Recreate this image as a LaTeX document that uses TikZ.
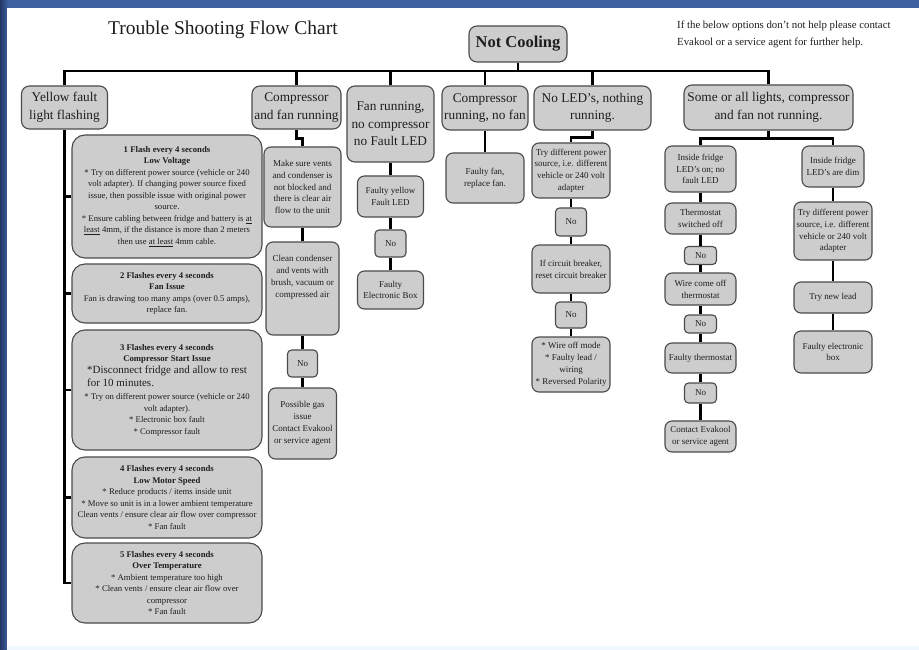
\documentclass[tikz,border=0pt]{standalone}
\usepackage{fontspec}
\setmainfont{Liberation Serif}
\usetikzlibrary{calc}
\definecolor{boxfill}{RGB}{205,205,205}
\definecolor{boxline}{RGB}{75,75,75}
\definecolor{frameblue}{RGB}{62,98,160}
\definecolor{framedark}{RGB}{35,55,100}
\definecolor{inktext}{RGB}{30,30,30}
\begin{document}
\begin{tikzpicture}[x=1pt,y=-1pt,
  box/.style={draw=boxline, fill=boxfill, line width=1.1pt, rounded corners=7pt, align=center, inner sep=1pt, text=inktext, font=\fontsize{9}{11.8}\selectfont},
  sbox/.style={box, rounded corners=4pt},
  hbox/.style={box, rounded corners=8pt, font=\fontsize{13.3}{17.5}\selectfont},
  lbox/.style={box, rounded corners=13pt, font=\fontsize{8.7}{11.5}\selectfont},
  conn/.style={line width=2.5pt, black},
]
\useasboundingbox (0,0) rectangle (919,650);
% frame
\fill[frameblue] (0,0) rectangle (919,650);
\shade[left color=framedark, right color=frameblue] (0,0) rectangle (8,650);
\fill[white] (7,8) rectangle (919,646);
\fill[cyan!6] (7,646) rectangle (919,650);

% title and note
\node[font=\fontsize{19.5}{22}\selectfont, text=inktext] (title) at (223,30) {Trouble Shooting Flow Chart};
\node[font=\fontsize{10.8}{17}\selectfont, align=left, anchor=west, inner sep=0pt, text=inktext] (note) at (677,34.5)
  {If the below options don't not help please contact\\Evakool or a service agent for further help.};

% root
\node[hbox, font=\fontsize{16.5}{19}\selectfont\bfseries, minimum width=98, minimum height=36] (nc) at (518,44) {Not Cooling};
\coordinate (bus) at (0,71);

% headers
\node[hbox, minimum width=86, minimum height=43] (yel) at (64.5,107.5) {Yellow fault\\light flashing};
\node[hbox, minimum width=89, minimum height=43] (cf) at (296.5,107.5) {Compressor\\and fan running};
\node[hbox, minimum width=87, minimum height=76] (fr) at (390.5,124) {Fan running,\\no compressor\\no Fault LED};
\node[hbox, minimum width=86, minimum height=44] (cr) at (485,108) {Compressor\\running, no fan};
\node[hbox, minimum width=117, minimum height=44] (nl) at (592.5,108) {No LED’s, nothing\\running.};
\node[hbox, minimum width=169, minimum height=45] (so) at (768.5,107.5) {Some or all lights, compressor\\and fan not running.};

% yellow fault boxes
\node[lbox, minimum width=190, minimum height=123] (b1) at (167,196.5)
  {\textbf{1 Flash every 4 seconds}\\\textbf{Low Voltage}\\
   * Try on different power source (vehicle or 240\\
   volt adapter). If changing power source fixed\\
   issue, then possible issue with original power\\
   source.\\
   * Ensure cabling between fridge and battery is \underline{at}\\
   \underline{least} 4mm, if the distance is more than 2 meters\\
   then use \underline{at least} 4mm cable.};
\node[lbox, minimum width=190, minimum height=59] (b2) at (167,293.5)
  {\textbf{2 Flashes every 4 seconds}\\\textbf{Fan Issue}\\
   Fan is drawing too many amps (over 0.5 amps),\\
   replace fan.};
\node[lbox, minimum width=190, minimum height=120] (b3) at (167,390)
  {\textbf{3 Flashes every 4 seconds}\\\textbf{Compressor Start Issue}\\
   {\fontsize{11}{13}\selectfont\begin{tabular}{@{}l@{}}*Disconnect fridge and allow to rest\\for 10 minutes.\end{tabular}}\\[2pt]
   * Try on different power source (vehicle or 240\\
   volt adapter).\\
   * Electronic box fault\\
   * Compressor fault};
\node[lbox, minimum width=190, minimum height=81] (b4) at (167,497.5)
  {\textbf{4 Flashes every 4 seconds}\\\textbf{Low Motor Speed}\\
   * Reduce products / items inside unit\\
   * Move so unit is in a lower ambient temperature\\
   Clean vents / ensure clear air flow over compressor\\
   * Fan fault};
\node[lbox, minimum width=190, minimum height=80] (b5) at (167,583)
  {\textbf{5 Flashes every 4 seconds}\\\textbf{Over Temperature}\\
   * Ambient temperature too high\\
   * Clean vents / ensure clear air flow over\\
   compressor\\
   * Fan fault};

% compressor and fan running column
\node[box, minimum width=77, minimum height=80] (ms) at (302.5,187) {Make sure vents\\and condenser is\\not blocked and\\there is clear air\\flow to the unit};
\node[box, minimum width=73, minimum height=93] (cc) at (302.5,288.5) {Clean condenser\\and vents with\\brush, vacuum or\\compressed air\rule[-24pt]{0pt}{0pt}};
\node[sbox, minimum width=30, minimum height=27] (no1) at (302.5,363.5) {No};
\node[box, minimum width=68, minimum height=71] (pg) at (302.5,423.5) {Possible gas\\issue\\Contact Evakool\\or service agent};

% fan running column
\node[box, minimum width=66, minimum height=41] (fy) at (390.5,196.5) {Faulty yellow\\Fault LED};
\node[sbox, minimum width=31, minimum height=27] (no2) at (390.5,243.5) {No};
\node[box, minimum width=66, minimum height=38] (fe) at (390.5,290) {Faulty\\Electronic Box};

% compressor running column
\node[box, minimum width=78, minimum height=50] (ff) at (485,178) {Faulty fan,\\replace fan.};

% no LED column
\node[box, minimum width=78, minimum height=55] (td) at (571,170.5) {Try different power\\source, i.e. different\\vehicle or 240 volt\\adapter};
\node[sbox, minimum width=31, minimum height=28] (no3) at (571,222) {No};
\node[box, minimum width=78, minimum height=48] (cb) at (571,269) {If circuit breaker,\\reset circuit breaker};
\node[sbox, minimum width=31, minimum height=26] (no4) at (571,315) {No};
\node[box, minimum width=78, minimum height=55] (wo) at (571,364.5) {* Wire off mode\\* Faulty lead /\\wiring\\* Reversed Polarity};

% some or all column
\node[box, minimum width=71, minimum height=46] (l1) at (700.5,169) {Inside fridge\\LED’s on; no\\fault LED};
\node[box, minimum width=71, minimum height=31] (l2) at (700.5,218.5) {Thermostat\\switched off};
\node[sbox, minimum width=32, minimum height=18] (l3) at (700.5,255.5) {No};
\node[box, minimum width=71, minimum height=32] (l4) at (700.5,289) {Wire come off\\thermostat};
\node[sbox, minimum width=32, minimum height=18] (l5) at (700.5,324) {No};
\node[box, minimum width=71, minimum height=30] (l6) at (700.5,358) {Faulty thermostat};
\node[sbox, minimum width=32, minimum height=20] (l7) at (700.5,393) {No};
\node[box, minimum width=71, minimum height=31] (l8) at (700.5,436.5) {Contact Evakool\\or service agent};
\node[box, minimum width=62, minimum height=41] (r1) at (833,166.5) {Inside fridge\\LED’s are dim};
\node[box, minimum width=78, minimum height=58] (r2) at (833,231) {Try different power\\source, i.e. different\\vehicle or 240 volt\\adapter};
\node[box, minimum width=78, minimum height=31] (r3) at (833,297.5) {Try new lead};
\node[box, minimum width=78, minimum height=42] (r4) at (833,352) {Faulty electronic\\box};

% connectors: top bus
\draw[conn] (nc.south) -- (nc.south |- bus);
\draw[conn] (yel.north) |- (so.north |- bus) -- (so.north);
\foreach \n in {cf,fr,cr,nl} \draw[conn] (\n.north) -- (\n.north |- bus);

% yellow fault tree
\draw[conn] (yel.south) -- (yel.south |- b5.west) -- (b5.west);
\foreach \n in {b1,b2,b3,b4} \draw[conn] (yel.south |- \n.west) -- (\n.west);

% compressor and fan running
\draw[conn] (cf.south) -- ++(0,9) -| (ms.north);
\draw[conn] (ms.south) -- (cc.north);
\draw[conn] (cc.south) -- (no1.north);
\draw[conn] (no1.south) -- (pg.north);

% fan running
\draw[conn] (fr.south) -- (fy.north);
\draw[conn] (fy.south) -- (no2.north);
\draw[conn] (no2.south) -- (fe.north);

% compressor running
\draw[conn] (cr.south) -- (ff.north);

% no LED
\draw[conn] (nl.south) -- ++(0,7) -| (td.north);
\draw[conn] (td.south) -- (no3.north);
\draw[conn] (no3.south) -- (cb.north);
\draw[conn] (cb.south) -- (no4.north);
\draw[conn] (no4.south) -- (wo.north);

% some or all
\draw[conn] (so.south) -- ++(0,8) coordinate (sj);
\draw[conn] (sj) -| (l1.north);
\draw[conn] (sj) -| (r1.north);
\draw[conn] (l1.south) -- (l2.north);
\draw[conn] (l2.south) -- (l3.north);
\draw[conn] (l3.south) -- (l4.north);
\draw[conn] (l4.south) -- (l5.north);
\draw[conn] (l5.south) -- (l6.north);
\draw[conn] (l6.south) -- (l7.north);
\draw[conn] (l7.south) -- (l8.north);
\draw[conn] (r1.south) -- (r2.north);
\draw[conn] (r2.south) -- (r3.north);
\draw[conn] (r3.south) -- (r4.north);
\end{tikzpicture}
\end{document}
